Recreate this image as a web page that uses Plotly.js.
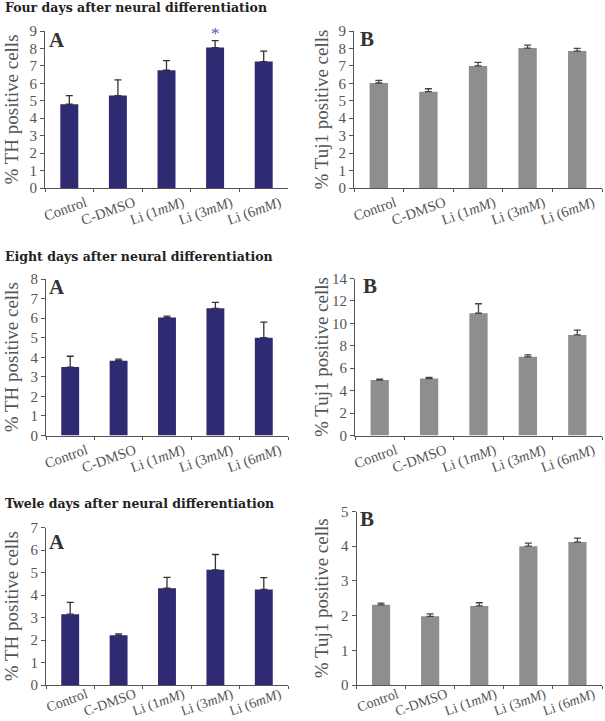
<!DOCTYPE html>
<html>
<head>
<meta charset="utf-8">
<script src="https://cdn.plot.ly/plotly-3.0.1.min.js"></script>
<style>
html,body{margin:0;padding:0;background:#fff;}
#chart{width:605px;height:721px;}
</style>
</head>
<body>
<div id="chart"></div>
<script>
// Categories and tick labels
const categories = ['Control', 'C-DMSO', 'Li (1mM)', 'Li (3mM)', 'Li (6mM)'];
const tickLabels = ['Control', 'C-DMSO', 'Li (1<i>mM</i>)', 'Li (3<i>mM</i>)', 'Li (6<i>mM</i>)'];

// Row titles
const rowTitles = ['Four days after neural differentiation',
                   'Eight days after neural differentiation',
                   'Twele days after neural differentiation'];

// Four days
const th4 = [4.8, 5.3, 6.75, 8.05, 7.25];
const th4Err = [0.5, 0.9, 0.55, 0.4, 0.6];
const tuj4 = [6.02, 5.52, 7.0, 8.02, 7.85];
const tuj4Err = [0.15, 0.17, 0.2, 0.17, 0.15];

// Eight days
const th8 = [3.5, 3.82, 6.03, 6.5, 5.0];
const th8Err = [0.55, 0.08, 0.07, 0.3, 0.8];
const tuj8 = [4.95, 5.08, 10.9, 7.02, 8.97];
const tuj8Err = [0.07, 0.1, 0.85, 0.17, 0.43];

// Twelve days
const th12 = [3.15, 2.21, 4.3, 5.12, 4.25];
const th12Err = [0.52, 0.06, 0.48, 0.68, 0.52];
const tuj12 = [2.31, 1.98, 2.28, 4.0, 4.12];
const tuj12Err = [0.05, 0.07, 0.09, 0.09, 0.11];

const navy = '#2e2b72';
const grey = '#8e8e8e';
const W = 605, H = 721;
const px = v => v / W;
const py = v => 1 - v / H;

const panels = [
  {vals: th4, err: th4Err, color: navy, ecol: '#333', x0: 45, x1: 288, yb: 188, yt: 31, max: 9, dtick: 1, label: 'A', lx: 57, ly: 40, title: '% TH positive cells', tx: 11, fs: 14.5, so: 0},
  {vals: tuj4, err: tuj4Err, color: grey, ecol: '#444', x0: 354, x1: 602, yb: 188, yt: 31, max: 9, dtick: 1, label: 'B', lx: 367, ly: 39, title: '% Tuj1 positive cells', tx: 321, fs: 14.5, so: 0},
  {vals: th8, err: th8Err, color: navy, ecol: '#333', x0: 46, x1: 288, yb: 435.5, yt: 279, max: 8, dtick: 1, label: 'A', lx: 57, ly: 287, title: '% TH positive cells', tx: 11, fs: 14.5, so: 0},
  {vals: tuj8, err: tuj8Err, color: grey, ecol: '#444', x0: 355, x1: 602, yb: 435.5, yt: 278.5, max: 14, dtick: 2, label: 'B', lx: 370, ly: 286, title: '% Tuj1 positive cells', tx: 321, fs: 14.5, so: 0},
  {vals: th12, err: th12Err, color: navy, ecol: '#333', x0: 46, x1: 288, yb: 685, yt: 527.5, max: 7, dtick: 1, label: 'A', lx: 57, ly: 542, title: '% TH positive cells', tx: 11, fs: 14, so: -5},
  {vals: tuj12, err: tuj12Err, color: grey, ecol: '#444', x0: 356.5, x1: 602, yb: 685, yt: 511.5, max: 5, dtick: 1, label: 'B', lx: 367, ly: 519, title: '% Tuj1 positive cells', tx: 321, fs: 14, so: -5}
];

const traces = [];
const layout = {
  width: W, height: H,
  margin: {l: 0, r: 0, t: 0, b: 0},
  paper_bgcolor: '#fff', plot_bgcolor: '#fff',
  showlegend: false,
  bargap: 0.63,
  font: {family: 'Liberation Serif, serif', color: '#444'},
  annotations: []
};

panels.forEach((p, i) => {
  const n = i + 1;
  const xa = n === 1 ? 'x' : 'x' + n;
  const ya = n === 1 ? 'y' : 'y' + n;
  traces.push({
    type: 'bar', x: categories, y: p.vals, xaxis: xa, yaxis: ya,
    marker: {color: p.color, line: {color: p.color, width: 0}},
    error_y: {type: 'data', symmetric: false, array: p.err, arrayminus: p.err.map(() => 0),
              color: p.ecol, thickness: 1.3, width: 3.5},
    hoverinfo: 'none'
  });
  layout['xaxis' + (n === 1 ? '' : n)] = {
    domain: [px(p.x0), px(p.x1)], anchor: ya,
    type: 'category', range: [-0.5, 4.5], fixedrange: true,
    tickvals: categories, ticktext: tickLabels,
    tickangle: -20, ticks: 'outside', tickson: 'boundaries', ticklen: 3,
    tickcolor: '#555', tickwidth: 1,
    ticklabelshift: 16, ticklabelstandoff: p.so,
    showline: true, linecolor: '#555', linewidth: 1, showgrid: false, zeroline: false,
    tickfont: {family: 'Liberation Serif, serif', size: p.fs, color: '#555'}
  };
  layout['yaxis' + (n === 1 ? '' : n)] = {
    domain: [py(p.yb), py(p.yt)], anchor: xa,
    range: [0, p.max], dtick: p.dtick, fixedrange: true,
    ticks: 'outside', ticklen: 4, tickcolor: '#555', tickwidth: 1,
    showline: true, linecolor: '#555', linewidth: 1, showgrid: false, zeroline: false,
    tickfont: {family: 'Liberation Serif, serif', size: 15, color: '#555'}
  };
  layout.annotations.push({
    xref: 'paper', yref: 'paper', x: px(p.lx), y: py(p.ly),
    text: '<b>' + p.label + '</b>', showarrow: false, xanchor: 'center', yanchor: 'middle',
    font: {family: 'Liberation Serif, serif', size: 21, color: '#333'}
  });
  layout.annotations.push({
    xref: 'paper', yref: 'paper', x: px(p.tx), y: py((p.yb + p.yt) / 2),
    text: p.title, textangle: -90, showarrow: false, xanchor: 'center', yanchor: 'middle',
    font: {family: 'Liberation Serif, serif', size: 19, color: '#555'}
  });
});

// Significance marker on Li (3mM), four days TH
layout.annotations.push({
  xref: 'x', yref: 'y', x: categories[3], y: th4[3] + th4Err[3],
  text: '*', showarrow: false, yanchor: 'bottom', yshift: -4,
  font: {family: 'Liberation Serif, serif', size: 17, color: '#5a5aa8'}
});

// Row titles
[8, 256, 503].forEach((yy, i) => {
  layout.annotations.push({
    xref: 'paper', yref: 'paper', x: px(3), y: py(yy),
    text: '<b>' + rowTitles[i] + '</b>', showarrow: false, xanchor: 'left', yanchor: 'middle',
    font: {family: 'DejaVu Serif, serif', size: 12.5, color: '#222'}
  });
});

Plotly.newPlot('chart', traces, layout, {staticPlot: true, displayModeBar: false});
</script>
</body>
</html>
